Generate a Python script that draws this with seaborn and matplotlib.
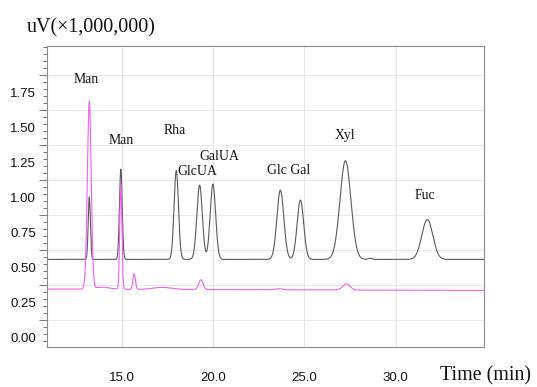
import numpy as np
import pandas as pd
import matplotlib
matplotlib.use("Agg")
import matplotlib.pyplot as plt
import seaborn as sns
from matplotlib.ticker import FixedLocator, MultipleLocator, FormatStrFormatter, NullFormatter

# ---------------- data ----------------
# standard mixture (grey trace): retention time (min), peak height above baseline, peak width (sigma, min)
std_rt = [13.20, 14.93, 17.97, 19.25, 19.98, 23.68, 24.78, 27.25, 28.60, 31.74]
std_height = [0.445, 0.645, 0.635, 0.531, 0.538, 0.495, 0.424, 0.705, 0.008, 0.285]
std_sigma = [0.060, 0.075, 0.120, 0.150, 0.150, 0.190, 0.180, 0.300, 0.100, 0.300]
std_baseline = 0.555

# sample (magenta trace)
smp_rt = [12.95, 13.20, 13.90, 14.93, 15.66, 17.20, 19.32, 23.60, 27.30]
smp_height = [0.010, 1.340, 0.015, 0.750, 0.110, 0.015, 0.070, 0.008, 0.045]
smp_sigma = [0.080, 0.105, 0.400, 0.060, 0.070, 0.500, 0.120, 0.200, 0.200]
smp_baseline_start = 0.343
smp_baseline_end = 0.333

time_start, time_end = 10.88, 34.85

x_ticks = [15.0, 20.0, 25.0, 30.0]
y_ticks = [0.00, 0.25, 0.50, 0.75, 1.00, 1.25, 1.50, 1.75]

peak_labels = ["Man", "Man", "Rha", "GlcUA", "GalUA", "Glc Gal", "Xyl", "Fuc"]
label_x = [13.06, 14.95, 17.91, 19.12, 20.33, 24.12, 27.20, 31.60]
label_y = [1.814, 1.379, 1.450, 1.157, 1.264, 1.164, 1.418, 0.986]

# ---------------- build traces ----------------
t = np.linspace(time_start, time_end, 4000)

def trace(base, rts, hs, sds):
    y = np.array(base, dtype=float) * np.ones_like(t)
    for rt, h, sd in zip(rts, hs, sds):
        y = y + h * np.exp(-0.5 * ((t - rt) / sd) ** 2)
    return y

std_sig = trace(std_baseline, std_rt, std_height, std_sigma)
smp_base = np.interp(t, [time_start, time_end], [smp_baseline_start, smp_baseline_end])
smp_sig = trace(smp_base, smp_rt, smp_height, smp_sigma)

df = pd.concat([
    pd.DataFrame({"time": t, "signal": std_sig, "trace": "standard"}),
    pd.DataFrame({"time": t, "signal": smp_sig, "trace": "sample"}),
])

# ---------------- plot ----------------
sns.set_style("white")
plt.rcParams["font.family"] = ["Liberation Sans", "DejaVu Sans"]

fig = plt.figure(figsize=(5.37, 3.87), dpi=100)
ax = fig.add_axes([47 / 537, 1 - 347 / 387, (484 - 47) / 537, (347 - 46) / 387])

sns.lineplot(data=df, x="time", y="signal", hue="trace",
             hue_order=["standard", "sample"],
             palette={"standard": "#5a5a5a", "sample": "#f35ef3"},
             linewidth=0.8, estimator=None, legend=False, ax=ax)

ax.set_xlim(time_start, time_end)
ax.set_ylim(-0.071, 2.08)
ax.set_xlabel("")
ax.set_ylabel("")

# x axis
ax.xaxis.set_major_locator(FixedLocator(x_ticks))
ax.xaxis.set_minor_locator(MultipleLocator(1.0))
ax.xaxis.set_major_formatter(FormatStrFormatter("%.1f"))
ax.tick_params(axis="x", which="major", length=5, width=0.7, direction="out",
               color="#777777", pad=13, labelsize=9.5, labelcolor="#111111")
ax.tick_params(axis="x", which="minor", length=3, width=0.7, direction="out",
               color="#777777")
ax.xaxis.grid(True, which="major", color="#e8e8e8", linewidth=0.7)

# y axis: long ticks + grid at mid positions, labels via secondary axis
ax.yaxis.set_major_locator(FixedLocator(np.arange(0.125, 2.0, 0.25)))
ax.yaxis.set_minor_locator(FixedLocator(np.arange(-0.075, 2.08, 0.05)))
ax.yaxis.set_major_formatter(NullFormatter())
ax.tick_params(axis="y", which="major", length=6, width=0.7, direction="out",
               color="#777777", left=True)
ax.tick_params(axis="y", which="minor", length=3, width=0.7, direction="out",
               color="#777777", left=True)
ax.yaxis.grid(True, which="major", color="#e8e8e8", linewidth=0.7)
ax.set_axisbelow(True)

sec = ax.secondary_yaxis("left")
sec.set_yticks(y_ticks)
sec.yaxis.set_major_formatter(FormatStrFormatter("%.2f"))
sec.tick_params(axis="y", length=0, pad=8, labelsize=9.5, labelcolor="#111111")
sec.spines["left"].set_visible(False)

for side in ["left", "bottom", "top", "right"]:
    ax.spines[side].set_color("#8a8a8a")
    ax.spines[side].set_linewidth(0.8)

# peak labels
for lab, lx, ly in zip(peak_labels, label_x, label_y):
    ax.text(lx, ly, lab, ha="center", va="baseline",
            family=["Liberation Serif", "DejaVu Serif"], fontsize=9.9, color="#111111")

# axis titles
fig.text(27 / 537, 1 - 32 / 387, "uV(×1,000,000)", ha="left", va="baseline",
         family=["Liberation Serif", "DejaVu Serif"], fontsize=14.4, color="#111111")
fig.text(440 / 537, 1 - 380 / 387, "Time (min)", ha="left", va="baseline",
         family=["Liberation Serif", "DejaVu Serif"], fontsize=14.4, color="#111111")

fig.savefig("out.png", dpi=100)
